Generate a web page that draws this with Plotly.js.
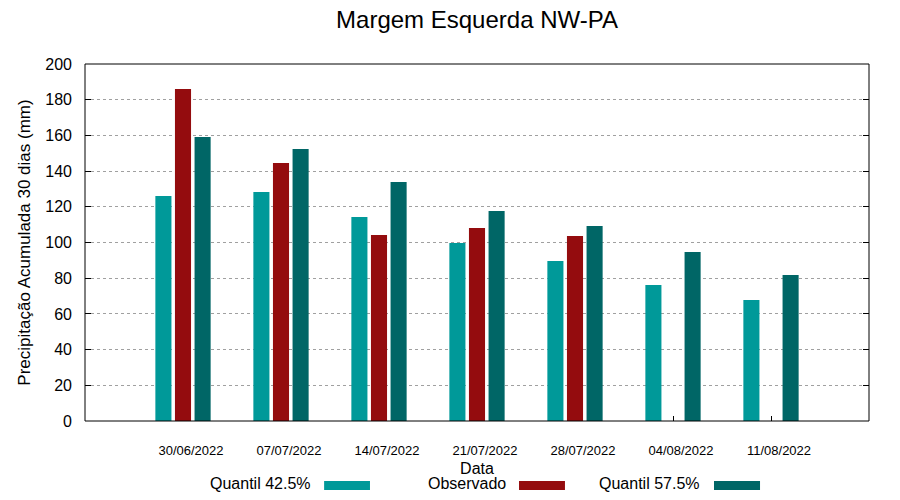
<!DOCTYPE html>
<html>
<head>
<meta charset="utf-8">
<script src="https://cdn.plot.ly/plotly-3.0.1.min.js"></script>
<style>html,body{margin:0;padding:0;background:#fff;}#chart{width:900px;height:500px;}</style>
</head>
<body>
<div id="chart"></div>
<script>
var categories = ["30/06/2022","07/07/2022","14/07/2022","21/07/2022","28/07/2022","04/08/2022","11/08/2022"];
var seriesNames = ["Quantil 42.5%","Observado","Quantil 57.5%"];
var q425 = [126.1, 128.3, 114.3, 99.7, 89.6, 76.2, 67.8];
var observado = [186.0, 144.5, 104.2, 108.1, 103.6, null, null];
var q575 = [159.1, 152.4, 133.9, 117.6, 109.2, 94.7, 81.8];
var yTicks = [0,20,40,60,80,100,120,140,160,180,200];

var colors = ["#009999","#940C0E","#006666"];
var xIdx = categories.map(function(_, i){ return i; });
var seriesVals = [q425, observado, q575];

var data = seriesVals.map(function(v, k){
  return {type:'bar', x:xIdx, y:v, name:seriesNames[k], marker:{color:colors[k], line:{width:0}}, showlegend:false, hoverinfo:'y'};
});

var font = "Liberation Sans, Arial, sans-serif";
var legendTextRight = [0.291, 0.539, 0.7874];
var legendSample = [[0.305,0.3635],[0.5536,0.6122],[0.8023,0.861]];
var annotations = [], shapes = [];
seriesNames.forEach(function(n, k){
  annotations.push({xref:'paper', yref:'paper', x:legendTextRight[k], y:-0.176, xanchor:'right', yanchor:'middle', text:n, showarrow:false, font:{family:font, size:16, color:'#000'}});
  shapes.push({type:'rect', xref:'paper', yref:'paper', x0:legendSample[k][0], x1:legendSample[k][1], y0:-0.193, y1:-0.168, fillcolor:colors[k], line:{width:0}});
});
shapes.push({type:'rect', xref:'paper', yref:'paper', x0:0, x1:1, y0:0, y1:1, line:{color:'#000', width:1}, fillcolor:'rgba(0,0,0,0)'});

var layout = {
  width:900, height:500,
  margin:{l:85, r:31, t:64, b:79, pad:0},
  paper_bgcolor:'#fff', plot_bgcolor:'#fff',
  font:{family:font, color:'#000'},
  title:{text:'Margem Esquerda NW-PA', font:{family:font, size:24, color:'#000'}, x:0.5, xref:'paper', xanchor:'center', y:1, yref:'container', yanchor:'top', pad:{t:11}},
  barmode:'group', bargap:0.4, bargroupgap:0.18,
  xaxis:{
    range:[-1,7], tickmode:'array', tickvals:xIdx, ticktext:categories,
    ticks:'inside', ticklen:5, tickcolor:'#000', tickwidth:1,
    showgrid:false, zeroline:false, showline:false, layer:'below traces',
    tickfont:{family:font, size:13, color:'#000'}, ticklabelshift:8, ticklabelstandoff:20,
    title:{text:'Data', font:{family:font, size:16, color:'#000'}, standoff:5}
  },
  yaxis:{
    range:[0,200], tickmode:'array', tickvals:yTicks,
    ticks:'inside', ticklen:6, tickcolor:'#000', tickwidth:1, mirror:'ticks',
    showgrid:true, gridcolor:'#a0a0a0', griddash:'3px,3px', gridwidth:1,
    zeroline:false, showline:false, layer:'below traces',
    tickfont:{family:font, size:16, color:'#000'}, ticklabelstandoff:12,
    title:{text:'Precipitação Acumulada 30 dias (mm)', font:{family:font, size:17, color:'#000'}, standoff:10}
  },
  annotations:annotations,
  shapes:shapes
};

Plotly.newPlot('chart', data, layout, {displayModeBar:false, staticPlot:true});
</script>
</body>
</html>
